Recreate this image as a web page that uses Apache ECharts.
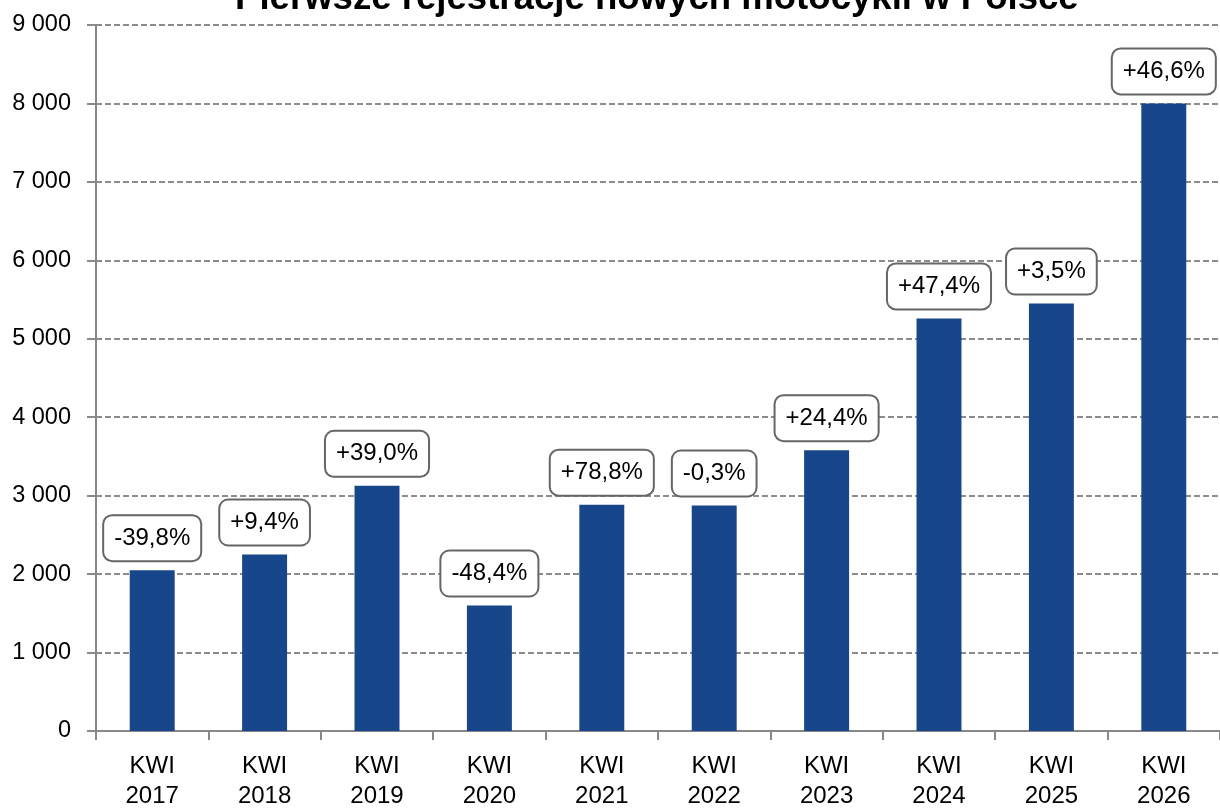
<!DOCTYPE html>
<html>
<head>
<meta charset="utf-8">
<script src="https://cdn.jsdelivr.net/npm/echarts@6/dist/echarts.min.js"></script>
<style>html,body{margin:0;padding:0;background:#fff;overflow:hidden;}#c{width:1220px;height:811px;}</style>
</head>
<body>
<div id="c"></div>
<script>
const titleText = 'Pierwsze rejestracje nowych motocykli w Polsce';
const quarters = ['KWI','KWI','KWI','KWI','KWI','KWI','KWI','KWI','KWI','KWI'];
const years = ['2017','2018','2019','2020','2021','2022','2023','2024','2025','2026'];
const values = [2050, 2250, 3125, 1600, 2885, 2875, 3580, 5260, 5450, 8000];
const changes = ['-39,8%','+9,4%','+39,0%','-48,4%','+78,8%','-0,3%','+24,4%','+47,4%','+3,5%','+46,6%'];
const yTicks = [0,1000,2000,3000,4000,5000,6000,7000,8000,9000];

const categories = quarters.map((q, i) => q + '\n' + years[i]);
const FONT = 'Liberation Sans, Arial, sans-serif';
const chart = echarts.init(document.getElementById('c'));
chart.setOption({
  animation: false,
  backgroundColor: '#fff',
  title: {
    text: titleText,
    left: 235,
    top: -20,
    padding: 0,
    textStyle: {fontFamily: FONT, fontSize: 36.6, fontWeight: 'bold', color: '#000'}
  },
  grid: {left: 96, width: 1133, top: 25, height: 710, containLabel: false},
  xAxis: {
    type: 'category',
    data: categories,
    boundaryGap: true,
    axisLine: {lineStyle: {color: '#888', width: 2}},
    axisTick: {show: true, length: 9, alignWithLabel: false, lineStyle: {color: '#888', width: 2}},
    axisLabel: {fontFamily: FONT, fontSize: 24, color: '#000', lineHeight: 30, margin: 20, interval: 0}
  },
  yAxis: {
    type: 'value',
    min: yTicks[0],
    max: yTicks[yTicks.length - 1],
    interval: yTicks[1] - yTicks[0],
    axisLine: {show: true, lineStyle: {color: '#888', width: 2}},
    axisTick: {show: true, length: 9, lineStyle: {color: '#888', width: 2}},
    axisLabel: {
      fontFamily: FONT, fontSize: 23.5, color: '#000', margin: 25,
      formatter: v => String(v).replace(/\B(?=(\d{3})+(?!\d))/g, ' ')
    },
    splitLine: {show: true, lineStyle: {color: '#8c8c8c', width: 2, type: [6, 3]}}
  },
  series: [{
    type: 'bar',
    data: values,
    barWidth: '40%',
    itemStyle: {color: '#17468A'},
    label: {
      show: true,
      position: 'top',
      distance: 10,
      formatter: p => changes[p.dataIndex],
      fontFamily: FONT,
      fontSize: 24,
      color: '#000',
      lineHeight: 26,
      backgroundColor: '#fff',
      borderColor: '#666',
      borderWidth: 2,
      borderRadius: 8,
      padding: [9, 10]
    }
  }]
});
</script>
</body>
</html>
